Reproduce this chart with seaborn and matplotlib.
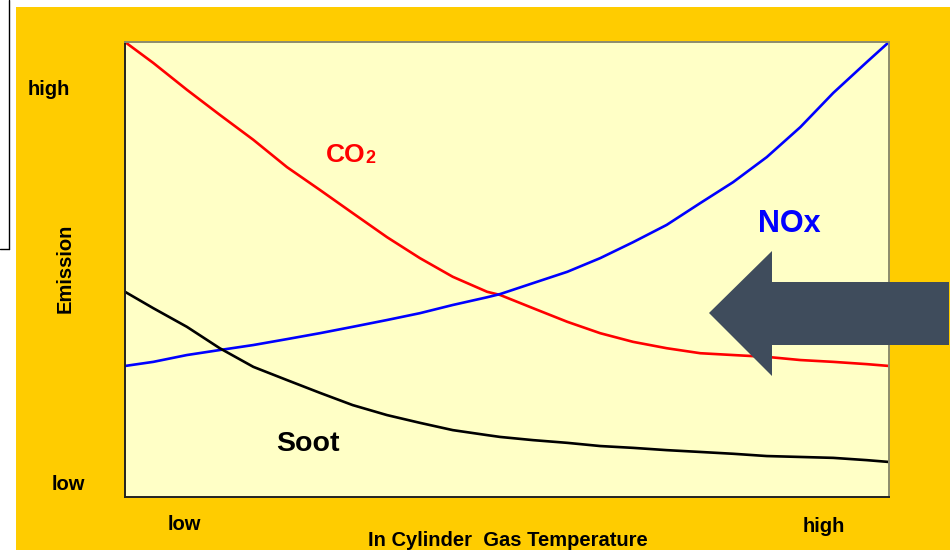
import matplotlib
matplotlib.use("Agg")
import matplotlib.pyplot as plt
import seaborn as sns
import pandas as pd
from matplotlib.patches import Rectangle, Polygon
from matplotlib.lines import Line2D

# ---- data (normalized 0-100 scales) ----
temperature = [0, 3.7, 8.1, 12.4, 16.8, 21.2, 25.5, 29.8, 34.3, 38.6, 42.9, 47.4,
               49.1, 53.4, 57.9, 62.2, 66.5, 70.9, 75.3, 79.6, 84.0, 88.4, 92.7, 97.1, 100]
co2 = [100, 95.4, 89.5, 84.0, 78.5, 72.5, 67.5, 62.4, 57.1, 52.5, 48.4, 45.1,
       44.4, 41.5, 38.5, 36.0, 34.1, 32.7, 31.6, 31.2, 30.8, 30.1, 29.7, 29.2, 28.8]
nox = [28.8, 29.7, 31.2, 32.3, 33.4, 34.7, 36.0, 37.4, 38.9, 40.4, 42.2, 43.9,
       44.6, 47.0, 49.5, 52.5, 56.0, 59.8, 64.6, 69.2, 74.7, 81.3, 88.8, 95.6, 100]
soot = [45.1, 41.5, 37.4, 32.7, 28.6, 25.7, 22.9, 20.2, 18.0, 16.3, 14.7, 13.6,
        13.2, 12.5, 11.9, 11.2, 10.8, 10.3, 9.9, 9.5, 9.0, 8.8, 8.6, 8.1, 7.7]
series_names = ["CO2", "NOx", "Soot"]
series_colors = ["#FF0000", "#0000FF", "#000000"]
x_tick_labels = ["low", "high"]
y_tick_labels = ["low", "high"]

df = pd.concat([
    pd.DataFrame({"temperature": temperature, "emission": v, "series": n})
    for n, v in zip(series_names, [co2, nox, soot])
])

sns.set_style("white")
plt.rcParams["font.family"] = ["Liberation Sans", "DejaVu Sans"]

W, H = 953, 550
fig = plt.figure(figsize=(W / 100, H / 100), dpi=100)
fig.patch.set_facecolor("white")

def fx(px):
    return px / W

def fy(py):
    return 1 - py / H

# gold background panel
fig.add_artist(Rectangle((fx(16), 0), fx(950) - fx(16), fy(7), transform=fig.transFigure,
                         facecolor="#FFCC00", edgecolor="none", zorder=-2))
# thin black bracket at left
fig.add_artist(Line2D([fx(9.5), fx(9.5)], [fy(0), fy(249)], transform=fig.transFigure,
                      color="black", lw=1.0, zorder=-1))
fig.add_artist(Line2D([fx(0), fx(9.5)], [fy(249), fy(249)], transform=fig.transFigure,
                      color="black", lw=1.0, zorder=-1))

ax = fig.add_axes([fx(125), fy(497), fx(889) - fx(125), fy(42) - fy(497)])
ax.set_facecolor("#FFFFC6")

sns.lineplot(data=df, x="temperature", y="emission", hue="series",
             palette=dict(zip(series_names, series_colors)), linewidth=1.9,
             legend=False, ax=ax, sort=False)

ax.set_xlim(0, 100)
ax.set_ylim(0, 100)
ax.set_xticks([])
ax.set_yticks([])
ax.set_xlabel("")
ax.set_ylabel("")
for side, col in [("left", "#222222"), ("bottom", "#222222"), ("top", "#8C8C6E"), ("right", "#8C8C6E")]:
    ax.spines[side].set_visible(True)
    ax.spines[side].set_color(col)
    ax.spines[side].set_linewidth(1.4)

# series labels
fig.text(fx(326), fy(162), "CO", color="#FF0000", fontsize=19, fontweight="bold",
         ha="left", va="baseline")
fig.text(fx(365), fy(163), "2", color="#FF0000", fontsize=13, fontweight="bold",
         ha="left", va="baseline")
fig.text(fx(789), fy(232), "NOx", color="#0000FF", fontsize=22, fontweight="bold",
         ha="center", va="baseline")
fig.text(fx(308), fy(451), "Soot", color="#000000", fontsize=20.5, fontweight="bold",
         ha="center", va="baseline")

# axis tick words and labels
lab_kw = dict(fontsize=14.5, fontweight="bold", color="black")
fig.text(fx(49), fy(90), y_tick_labels[1], ha="center", va="center", **lab_kw)
fig.text(fx(68), fy(485), y_tick_labels[0], ha="center", va="center", **lab_kw)
fig.text(fx(184), fy(525), x_tick_labels[0], ha="center", va="center", **lab_kw)
fig.text(fx(824), fy(527), x_tick_labels[1], ha="center", va="center", **lab_kw)
fig.text(fx(65), fy(268), "Emission", rotation=90, ha="center", va="center", **lab_kw)
fig.text(fx(508), fy(540), "In Cylinder  Gas Temperature", ha="center", va="center", **lab_kw)

# big left-pointing arrow
arrow_px = [(709, 313), (772, 251), (772, 282), (949, 282), (949, 345), (772, 345), (772, 376)]
fig.add_artist(Polygon([(fx(x), fy(y)) for x, y in arrow_px], closed=True,
                       transform=fig.transFigure, facecolor="#3F4C5C", edgecolor="none", zorder=5))

fig.savefig("out.png", dpi=100)
